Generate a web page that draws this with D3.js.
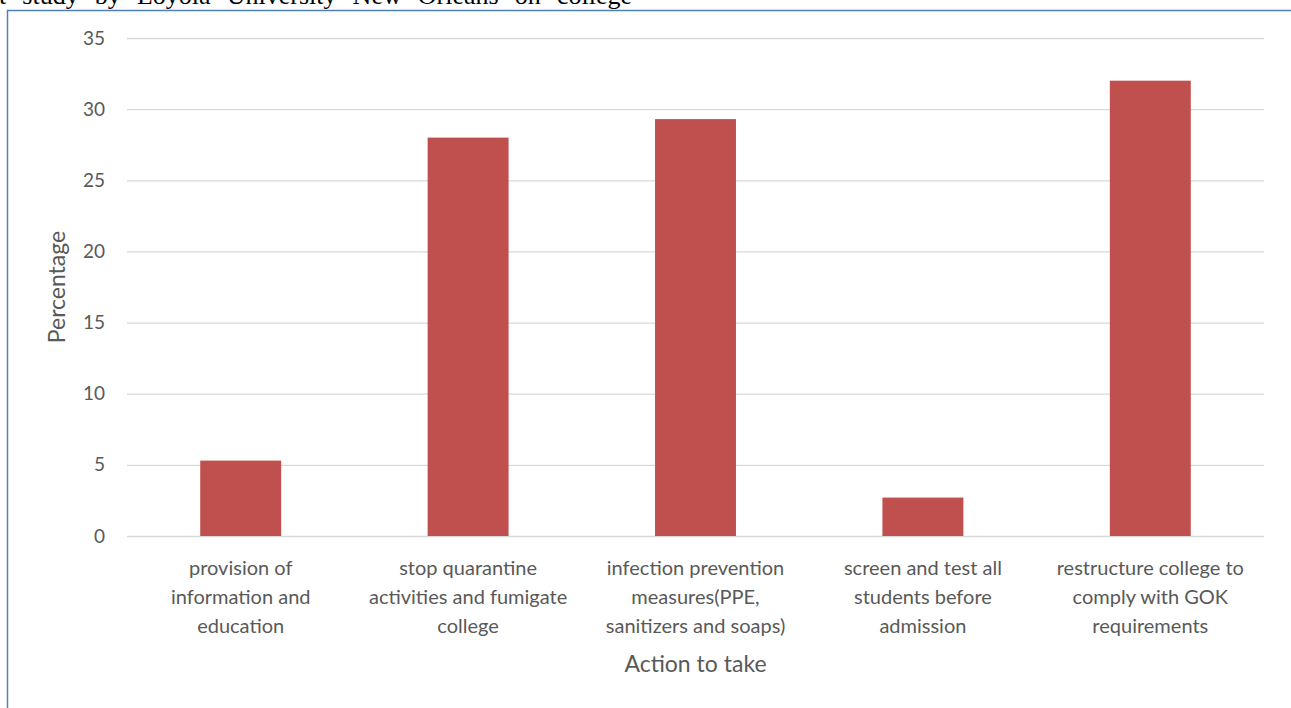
<!DOCTYPE html>
<html>
<head>
<meta charset="utf-8">
<script src="https://cdn.jsdelivr.net/npm/d3@7"></script>
<style>
  body { margin: 0; background: #fff; overflow: hidden; }
  svg { display: block; }
  .tick text { font-family: Lato, "Open Sans", sans-serif; fill: #595959; }
</style>
</head>
<body>
<svg id="chart" width="1291" height="708"></svg>
<script>
// values
var categories = [
  "provision of\ninformation and\neducation",
  "stop quarantine\nactivities and fumigate\ncollege",
  "infection prevention\nmeasures(PPE,\nsanitizers and soaps)",
  "screen and test all\nstudents before\nadmission",
  "restructure college to\ncomply with GOK\nrequirements"
];
var percentages = [5.3, 28, 29.3, 2.7, 32];
var yTicks = [0, 5, 10, 15, 20, 25, 30, 35];
var headerText = "t study by Loyola University New Orleans on college";

var svg = d3.select("#chart"),
    margin = {top: 38, right: 27, bottom: 172, left: 127},
    width = 1291 - margin.left - margin.right,
    height = 708 - margin.top - margin.bottom;

// clipped line of the surrounding document
var hdr = svg.append("text")
    .attr("x", -1)
    .attr("y", 4)
    .style("font-family", "'Liberation Serif', 'Times New Roman', serif")
    .style("font-size", "26px")
    .attr("fill", "#000")
    .text(headerText);
var natural = hdr.node().getComputedTextLength();
var gaps = headerText.split(" ").length - 1;
hdr.attr("word-spacing", Math.max(0, (633 - natural) / gaps));

// frame of the chart object
svg.append("path")
    .attr("d", "M7.5,708 V10.5 H1291")
    .attr("fill", "none")
    .attr("stroke", "#4f81bd")
    .attr("stroke-width", 1.5);

var g = svg.append("g").attr("transform", "translate(" + margin.left + "," + margin.top + ")");

var x = d3.scaleBand()
    .domain(categories)
    .range([0, width])
    .paddingInner(0.644)
    .paddingOuter(0.322);

var y = d3.scaleLinear()
    .domain([0, 35])
    .range([height, 0]);

// gridlines
g.append("g")
    .attr("class", "grid")
    .call(d3.axisLeft(y).tickValues(yTicks).tickSize(-width).tickFormat(""))
    .call(function(s) {
      s.select(".domain").remove();
      s.selectAll("line").attr("stroke", "#d9d9d9").attr("stroke-width", 1.3);
    });

// y axis labels
g.append("g")
    .call(d3.axisLeft(y).tickValues(yTicks).tickSize(0).tickPadding(22))
    .call(function(s) {
      s.select(".domain").remove();
      s.selectAll("text").style("font-size", "19px");
    });

// bars
g.selectAll(".bar")
    .data(percentages)
    .enter().append("rect")
    .attr("class", "bar")
    .attr("x", function(d, i) { return x(categories[i]); })
    .attr("y", function(d) { return y(d); })
    .attr("width", x.bandwidth())
    .attr("height", function(d) { return height - y(d); })
    .attr("fill", "#c0504d");

// x axis with wrapped labels
var xa = g.append("g")
    .attr("transform", "translate(0," + height + ")")
    .call(d3.axisBottom(x).tickSize(0).tickPadding(0));
xa.select(".domain").remove();
xa.selectAll(".tick text").each(function(d) {
  var t = d3.select(this).text(null).attr("y", 0).attr("dy", null)
      .style("font-size", "20px");
  d.split("\n").forEach(function(line, i) {
    t.append("tspan").attr("x", 0).attr("y", 39 + i * 29).text(line);
  });
});

// axis titles
svg.append("text")
    .attr("transform", "translate(65," + (margin.top + height / 2) + ") rotate(-90)")
    .attr("text-anchor", "middle")
    .style("font-family", "Lato, 'Open Sans', sans-serif")
    .style("font-size", "23px")
    .attr("fill", "#595959")
    .text("Percentage");

svg.append("text")
    .attr("x", margin.left + width / 2)
    .attr("y", 672)
    .attr("text-anchor", "middle")
    .style("font-family", "Lato, 'Open Sans', sans-serif")
    .style("font-size", "23px")
    .attr("fill", "#595959")
    .text("Action to take");
</script>
</body>
</html>
